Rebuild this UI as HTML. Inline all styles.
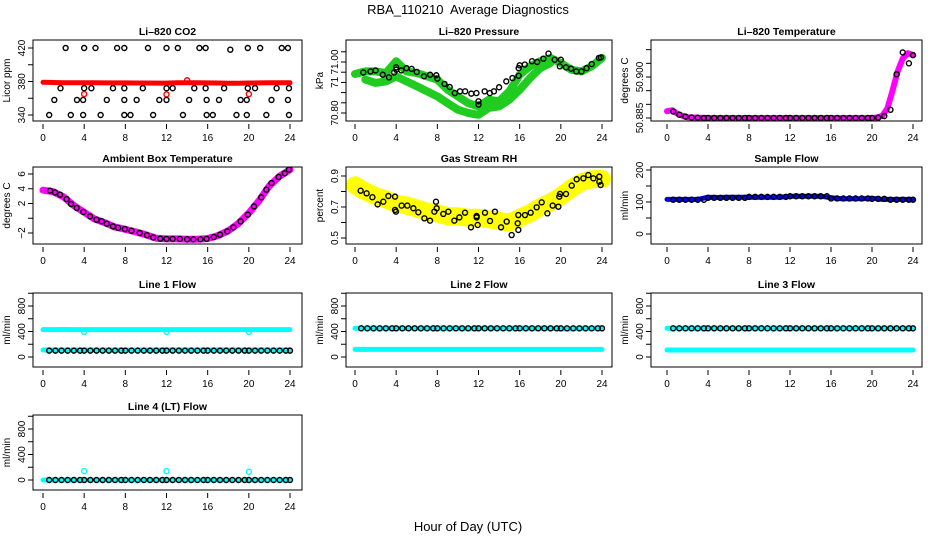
<!DOCTYPE html>
<html><head><meta charset="utf-8">
<style>
html,body{margin:0;padding:0;background:#fff;}
svg{display:block;font-family:"Liberation Sans",Arial,sans-serif;}
</style></head>
<body>
<svg id="chart" width="936" height="540" viewBox="0 0 936 540" xmlns="http://www.w3.org/2000/svg">
<rect x="0" y="0" width="936" height="540" fill="#fff"/>
<text x="468" y="14" text-anchor="middle" font-size="13" style="white-space:pre">RBA_110210  Average Diagnostics</text>
<text x="468" y="531" text-anchor="middle" font-size="13">Hour of Day (UTC)</text>
</svg>
<script>
// ---------- data ----------
const hourly = [0,1,2,3,4,5,6,7,8,9,10,11,12,13,14,15,16,17,18,19,20,21,22,23,24];
const blackHours = [0.6,1.2,1.8,2.4,3.0,3.6,4.0,4.6,5.2,5.8,6.4,7.0,7.6,8.0,8.6,9.2,9.8,10.4,11.0,11.6,12.0,12.6,13.2,13.8,14.4,15.0,15.6,16.0,16.6,17.2,17.8,18.4,19.0,19.6,20.0,20.6,21.2,21.8,22.4,23.0,23.6,24.0];
const xTicks = [0,4,8,12,16,20,24];

// CO2
const co2Red = [379,378.8,378.6,378.5,378.4,378.4,378.3,378.3,378.3,378.2,378.2,378.1,378.1,378.4,378.6,378.4,378.3,378.2,378.0,378.0,378.2,378.3,378.4,378.5,378.4];
const co2RedOutH = [4,12,14,20];
const co2RedOutV = [365,364.7,381.5,365];
const co2BlackH = [2.2,4.0,5.1,7.2,7.9,10.2,12.0,13.1,15.2,15.8,18.2,19.9,21.1,23.2,23.8,
  1.7,4.0,4.7,6.8,7.9,9.7,12,12.6,14.7,15.8,17.6,19.9,20.6,22.7,23.9,
  1.1,3.3,3.9,6.2,7.9,9.1,11.3,12,14.2,15.9,17.1,19.2,19.8,22.2,23.8,
  0.6,2.7,3.9,5.6,7.9,8.5,10.7,13.6,15.9,16.5,18.8,19.8,21.7,23.9];
const co2BlackV = [420,420,420,420,420,420,420,420,420,420,418,420,420,420,420,
  372,372,372,372,372,372,372,372,372,372,372,372,372,372,372,
  358,358,358,358,358,358,358,358,358,358,358,358,358,358,358,
  340,340,340,340,340,340,340,340,340,340,340,340,340,340];

// Pressure
const presUpper = [70.953,70.963,70.963,70.957,71.003,70.963,70.957,70.944,70.931,70.891,70.865,70.839,70.826,70.852,70.846,70.885,70.950,70.983,71.003,71.016,70.996,70.970,70.963,70.983,71.016];
const presLowerH = [1,2,3,4,5,6,7,8,9,10,11,12,13,14,15,16,17,18,19];
const presLower = [70.931,70.918,70.924,70.944,70.924,70.905,70.885,70.865,70.839,70.813,70.800,70.793,70.820,70.826,70.852,70.891,70.937,70.976,70.996];
const presBlackH = [0.8,1.5,2,2.7,3.3,3.8,4,4,4.5,5,5.5,6,6.7,7.3,7.9,8,8.7,9.2,9.7,10.2,10.7,11.3,11.8,12,12,12.6,13.1,13.5,14,14.7,15.3,15.9,15.9,16,16.5,17.2,17.7,18.3,18.8,19.4,19.9,20,20.5,21,21.5,22,22.5,23,23.7,23.9];
const presBlackV = [70.959,70.963,70.967,70.950,70.940,70.959,70.970,70.979,70.967,70.976,70.973,70.961,70.944,70.950,70.948,70.935,70.914,70.902,70.878,70.885,70.885,70.876,70.878,70.846,70.833,70.885,70.878,70.885,70.901,70.924,70.937,70.946,70.976,70.987,70.990,71.003,71.000,71.013,71.033,71.009,70.983,71.009,70.979,70.974,70.963,70.963,70.976,70.992,71.016,71.018];

// Li-820 temperature
const tempH = [0,0.5,1,1.5,2,3,4,5,6,7,8,9,10,11,12,13,14,15,16,17,18,19,20,20.5,21,21.5,22,22.5,23,23.5,24];
const tempV = [50.8875,50.8878,50.8866,50.8858,50.8853,50.8851,50.885,50.885,50.885,50.885,50.885,50.885,50.885,50.885,50.885,50.885,50.885,50.885,50.885,50.885,50.885,50.885,50.885,50.8852,50.8858,50.8885,50.8950,50.9020,50.9068,50.9087,50.9080];
const tempBlack = [50.8874,50.8862,50.8855,50.8852,50.8851,50.885,50.885,50.885,50.885,50.885,50.885,50.885,50.885,50.885,50.885,50.885,50.885,50.885,50.885,50.885,50.885,50.885,50.885,50.885,50.885,50.885,50.885,50.885,50.885,50.885,50.885,50.885,50.885,50.885,50.885,50.8851,50.8857,50.8880,50.9010,50.9090,50.9050,50.9080];

// Ambient box temperature
const ambV = [3.8,3.6,2.9,1.7,0.8,-0.1,-0.6,-1.2,-1.5,-1.85,-2.25,-2.7,-2.8,-2.8,-2.85,-2.85,-2.75,-2.35,-1.7,-0.7,0.7,2.4,4.4,5.7,6.6];
const ambBlackH = [0.68,1.17,1.66,2.3,2.72,3.27,3.92,4.57,5.2,5.7,6.2,6.8,7.3,7.96,8.6,9.4,10.1,10.7,11.4,12,12.6,13.3,14,14.6,15.3,15.9,16.6,17.2,17.9,18.5,19.2,19.9,20.5,21.2,21.7,22.2,22.9,23.5,23.9];
const ambBlackV = [3.74,3.5,3.2,2.6,1.93,1.4,0.85,0.25,-0.2,-0.4,-0.74,-1.1,-1.3,-1.46,-1.7,-2.0,-2.3,-2.6,-2.77,-2.8,-2.8,-2.8,-2.85,-2.85,-2.85,-2.8,-2.55,-2.23,-1.78,-1.24,-0.43,0.48,1.6,2.83,3.87,4.78,5.6,6.1,6.6];

// Gas stream RH
const rhV = [0.84,0.80,0.77,0.75,0.72,0.71,0.69,0.67,0.66,0.64,0.64,0.63,0.63,0.62,0.61,0.60,0.63,0.66,0.70,0.73,0.77,0.82,0.86,0.88,0.88];
const rhBlackH = [0.55,1.13,1.69,2.2,2.75,3.24,3.89,3.89,3.98,4.53,5.08,5.67,6.15,6.74,7.29,7.71,7.87,7.94,8.58,9.07,9.65,10.14,10.69,11.27,11.82,11.82,11.92,12.63,13.12,13.6,14.19,14.74,15.22,15.81,15.87,15.87,16.52,17.07,17.65,18.14,18.69,19.21,19.76,19.85,19.92,20.5,21.06,21.54,22.19,22.67,23.16,23.74,23.74,23.87];
const rhBlackV = [0.805,0.788,0.763,0.717,0.734,0.771,0.767,0.681,0.670,0.709,0.709,0.692,0.666,0.627,0.612,0.670,0.734,0.692,0.655,0.670,0.612,0.633,0.663,0.569,0.633,0.642,0.584,0.663,0.610,0.670,0.569,0.606,0.519,0.595,0.552,0.648,0.648,0.663,0.698,0.730,0.659,0.709,0.702,0.767,0.784,0.784,0.838,0.879,0.885,0.906,0.885,0.896,0.863,0.842];

// Sample flow
const sampleV = [108,108,108,108,115,114,115,115,115,115,115,115,118,118,118,118,113,110,110,110,112,108,108,108,108];
const sampleBlack = [107,107,107,107,107,107,113,113,113,113,113,113,113,116,116,116,116,116,116,116,118,118,118,118,118,118,118,111,111,111,111,111,111,111,110,110,110,107,107,107,107,107];

// Line flows
const l1CyanHigh = [430,430,432,430,430,430,430,430,430,430,430,430,430,430,430,430,430,430,430,430,430,430,430,430,430];
const l1CyanLow = [110,110,110,110,110,110,110,110,110,110,110,110,110,110,110,110,110,110,110,110,110,110,110,110,110];
const l1OutH = [4,12,20];
const l1OutV = [395,395,395];
const l1Black = [100,100,100,100,100,100,100,100,100,100,100,100,100,100,100,100,100,100,100,100,100,100,100,100,100,100,100,100,100,100,100,100,100,100,100,100,100,100,100,100,100,100];
const l2CyanHigh = [450,450,450,450,450,450,450,450,450,450,450,450,450,450,450,450,450,450,450,450,440,440,450,450,450];
const l2CyanLow = [120,120,120,120,120,120,120,120,120,120,120,120,120,120,120,120,120,120,120,120,120,120,120,120,120];
const l2Black = [450,450,450,450,450,450,450,450,450,450,450,450,450,450,450,450,450,450,450,450,450,450,450,450,450,450,450,450,450,450,450,450,450,450,450,450,450,450,450,450,450,450];
const l3CyanHigh = [450,450,450,450,450,450,450,450,450,450,450,450,450,450,450,450,450,450,450,450,450,450,450,450,450];
const l3CyanLow = [110,110,110,110,110,110,110,110,110,110,110,110,110,110,110,110,110,110,110,110,110,110,110,110,110];
const l3Black = [450,450,450,450,450,450,450,450,450,450,450,450,450,450,450,450,450,450,450,450,450,450,450,450,450,450,450,450,450,450,450,450,450,450,450,450,450,450,450,450,450,450];
const l4Cyan = [0,0,0,0,0,0,0,0,0,0,0,0,0,0,0,0,0,0,0,0,0,0,0,0,0];
const l4OutH = [4,12,20];
const l4OutV = [140,140,130];
const l4Black = [0,0,0,0,0,0,0,0,0,0,0,0,0,0,0,0,0,0,0,0,0,0,0,0,0,0,0,0,0,0,0,0,0,0,0,0,0,0,0,0,0,0];

// ---------- drawing ----------
const NS = 'http://www.w3.org/2000/svg';
const svg = document.getElementById('chart');
function mk(tag, attrs, parent){
  const e = document.createElementNS(NS, tag);
  for (const k in attrs) e.setAttribute(k, attrs[k]);
  (parent || svg).appendChild(e);
  return e;
}
const cols = [{l:33,r:302,x0:43,x24:290},{l:346,r:612,x0:355,x24:602},{l:651,r:922,x0:667,x24:913}];
const rows = [{t:40,b:121},{t:167,b:244},{t:293,b:367},{t:415,b:490}];

function panel(name, title, ylab, col, row, v0, p0, v1, p1, yTicks, yLabels){
  const c = cols[col], r = rows[row];
  const g = mk('g', {});
  
  
  const xs = h => c.x0 + (h / 24) * (c.x24 - c.x0);
  const ys = v => p0 + (v - v0) / (v1 - v0) * (p1 - p0);
  const clipId = 'clip-' + name;
  const cp = mk('clipPath', {id: clipId}, g);
  mk('rect', {x: c.l, y: r.t, width: c.r - c.l, height: r.b - r.t}, cp);
  const plot = mk('g', {'clip-path': 'url(#' + clipId + ')'}, g);
  
  
  const box = mk('rect', {x: c.l, y: r.t, width: c.r - c.l, height: r.b - r.t, fill: 'none', stroke: '#000', 'stroke-width': 1});
  
  
  const t = mk('text', {x: (c.l + c.r) / 2, y: r.t - 5, 'text-anchor': 'middle', 'font-size': 10.5, 'font-weight': 'bold'}, g);
  
  
  t.textContent = title;
  const yt = mk('text', {x: c.l - 23, y: (r.t + r.b) / 2, 'text-anchor': 'middle', 'font-size': 10, transform: 'rotate(-90 ' + (c.l - 23) + ' ' + ((r.t + r.b) / 2) + ')'}, g);
  
  
  yt.textContent = ylab;
  xTicks.forEach(h => {
    const x = xs(h);
    mk('line', {x1: x, x2: x, y1: r.b + 3, y2: r.b + 8, stroke: '#000'}, g);
    const tl = mk('text', {x: x, y: r.b + 20, 'text-anchor': 'middle', 'font-size': 10}, g);
    
    
    tl.textContent = h;
  });
  yTicks.forEach(v => {
    const y = ys(v);
    mk('line', {x1: c.l - 5, x2: c.l, y1: y, y2: y, stroke: '#000'}, g);
  });
  yLabels.forEach(([v, s]) => {
    const y = ys(v);
    const tl = mk('text', {x: c.l - 8, y: y, 'text-anchor': 'middle', 'font-size': 10, transform: 'rotate(-90 ' + (c.l - 8) + ' ' + y + ')'}, g);
    
    
    tl.textContent = s;
  });
  return {xs, ys, plot, name};
}
function band(p, hs, vs, color, w, nm){
  const pts = hs.map((h, i) => p.xs(h).toFixed(1) + ',' + p.ys(vs[i]).toFixed(1)).join(' ');
  const pl = mk('polyline', {points: pts, fill: 'none', stroke: color, 'stroke-width': w, 'stroke-linejoin': 'round', 'stroke-linecap': 'round'}, p.plot);
  
  
}
function dots(p, hs, vs, color, nm){
  hs.forEach((h, i) => {
    const c = mk('circle', {cx: p.xs(h), cy: p.ys(vs[i]), r: 2.5, fill: 'none', stroke: color, 'stroke-width': 1.4}, p.plot);
    
    
  });
}

// CO2
let p = panel('co2', 'Li\u2013820 CO2', 'Licor ppm', 0, 0, 340, 115, 420, 48, [340,360,380,400,420], [[340,'340'],[380,'380'],[420,'420']]);
band(p, hourly, co2Red, '#ff0000', 5, 'red-band');
dots(p, co2RedOutH, co2RedOutV, '#ff0000', 'red-point');
dots(p, co2BlackH, co2BlackV, '#000', 'black-point');

// Pressure
p = panel('pressure', 'Li\u2013820 Pressure', 'kPa', 1, 0, 70.80, 113, 71.00, 62, [70.80,70.84,70.88,70.92,70.96,71.00,71.04], [[70.80,'70.80'],[70.92,'71'],[71.00,'71.00']]);
band(p, hourly, presUpper, '#1fcc1f', 8, 'green-upper-band');
band(p, presLowerH, presLower, '#1fcc1f', 8, 'green-lower-band');
dots(p, presBlackH, presBlackV, '#000', 'black-point');

// Li-820 temperature
p = panel('li820-temp', 'Li\u2013820 Temperature', 'degrees C', 2, 0, 50.885, 118, 50.900, 77, [50.885,50.890,50.895,50.900,50.905,50.910], [[50.885,'50.885'],[50.900,'50.900']]);
band(p, tempH, tempV, '#ff00ff', 6, 'magenta-band');
dots(p, blackHours, tempBlack, '#000', 'black-point');

// Ambient
p = panel('ambient', 'Ambient Box Temperature', 'degrees C', 0, 1, -2, 233, 6, 174, [-2,0,2,4,6], [[-2,'\u22122'],[2,'2'],[4,'4'],[6,'6']]);
band(p, hourly, ambV, '#ff00ff', 7, 'magenta-band');
dots(p, ambBlackH, ambBlackV, '#000', 'black-point');

// RH
p = panel('rh', 'Gas Stream RH', 'percent', 1, 1, 0.5, 238, 0.9, 176, [0.5,0.6,0.7,0.8,0.9], [[0.5,'0.5'],[0.7,'0.7'],[0.9,'0.9']]);
band(p, hourly, rhV, '#ffff00', 18, 'yellow-band');
dots(p, rhBlackH, rhBlackV, '#000', 'black-point');

// Sample flow
p = panel('sample-flow', 'Sample Flow', 'ml/min', 2, 1, 0, 234, 200, 170, [0,50,100,150,200], [[0,'0'],[100,'100'],[200,'200']]);
band(p, hourly, sampleV, '#0000ff', 5, 'blue-band');
dots(p, blackHours, sampleBlack, '#000', 'black-point');

// Line flows
const fT = [0,200,400,600,800,1000], fL = [[0,'0'],[400,'400'],[800,'800']];
p = panel('line1-flow', 'Line 1 Flow', 'ml/min', 0, 2, 0, 357, 800, 306, fT, fL);
band(p, hourly, l1CyanHigh, '#00ffff', 5, 'cyan-high-band');
band(p, hourly, l1CyanLow, '#00ffff', 5, 'cyan-low-band');
dots(p, l1OutH, l1OutV, '#00ffff', 'cyan-point');
dots(p, blackHours, l1Black, '#000', 'black-point');

p = panel('line2-flow', 'Line 2 Flow', 'ml/min', 1, 2, 0, 357, 800, 306, fT, fL);
band(p, hourly, l2CyanHigh, '#00ffff', 5, 'cyan-high-band');
band(p, hourly, l2CyanLow, '#00ffff', 5, 'cyan-low-band');
dots(p, blackHours, l2Black, '#000', 'black-point');

p = panel('line3-flow', 'Line 3 Flow', 'ml/min', 2, 2, 0, 357, 800, 306, fT, fL);
band(p, hourly, l3CyanHigh, '#00ffff', 5, 'cyan-high-band');
band(p, hourly, l3CyanLow, '#00ffff', 5, 'cyan-low-band');
dots(p, blackHours, l3Black, '#000', 'black-point');

p = panel('line4-flow', 'Line 4 (LT) Flow', 'ml/min', 0, 3, 0, 480, 800, 429, fT, fL);
band(p, hourly, l4Cyan, '#00ffff', 5, 'cyan-band');
dots(p, l4OutH, l4OutV, '#00ffff', 'cyan-point');
dots(p, blackHours, l4Black, '#000', 'black-point');
</script>
</body></html>
